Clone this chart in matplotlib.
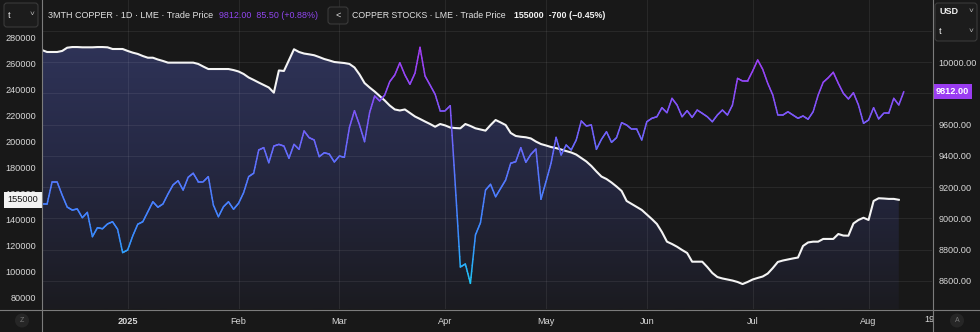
import numpy as np
import pandas as pd
import matplotlib
matplotlib.use('Agg')
import matplotlib.pyplot as plt
import matplotlib.transforms as mtrans
from matplotlib.collections import LineCollection
from matplotlib.colors import LinearSegmentedColormap, Normalize
from matplotlib.patches import Polygon, FancyBboxPatch, Circle, Rectangle
from matplotlib.lines import Line2D

plt.rcParams['font.family'] = ['Liberation Sans', 'DejaVu Sans']

# LME trading calendar (UK holidays removed)
holidays = ['2024-12-25', '2024-12-26', '2025-01-01', '2025-04-18',
            '2025-04-21', '2025-05-05', '2025-05-26']
days = pd.bdate_range('2024-12-05', '2025-08-19', freq='C', holidays=holidays)

# 3M copper, USD/t, one close per trading day
price = [
    9090, 9090, 9233, 9233, 9149, 9072, 9053, 9060, 9004, 9038,
    8882, 8940, 8933, 8964, 8978, 8930, 8780, 8797, 8887, 8962,
    8978, 9042, 9106, 9071, 9092, 9156, 9214, 9241, 9181, 9263,
    9289, 9235, 9235, 9267, 9085, 9010, 9074, 9106, 9058, 9096,
    9164, 9267, 9289, 9438, 9453, 9356, 9463, 9474, 9463, 9385,
    9474, 9442, 9560, 9517, 9502, 9395, 9420, 9412, 9361, 9399,
    9391, 9583, 9690, 9598, 9491, 9677, 9784, 9752, 9790, 9876,
    9919, 9997, 9919, 9859, 9930, 10096, 9912, 9854, 9795, 9690,
    9690, 9722, 9214, 8688, 8707, 8583, 8893, 8972, 9181, 9218,
    9138, 9192, 9246, 9353, 9363, 9453, 9359, 9410, 9444, 9122,
    9235, 9353, 9519, 9406, 9470, 9438, 9502, 9624, 9592, 9598,
    9442, 9506, 9555, 9487, 9517, 9613, 9598, 9571, 9571, 9502,
    9619, 9641, 9651, 9709, 9677, 9769, 9726, 9651, 9690, 9647,
    9694, 9673, 9651, 9619, 9662, 9694, 9662, 9726, 9897, 9880,
    9880, 9944, 10015, 9955, 9865, 9790, 9662, 9662, 9683, 9662,
    9641, 9656, 9635, 9683, 9790, 9872, 9901, 9936, 9865, 9801,
    9765, 9805, 9726, 9609, 9630, 9709, 9637, 9673, 9673, 9769,
    9726.5, 9812,
]

# LME copper stocks, tonnes
stocks = [
    270200, 268700, 268700, 268700, 269500, 272000, 272500, 272500, 272300, 272300,
    272300, 272500, 272500, 272300, 271000, 271000, 271000, 269500, 268200, 267200,
    265600, 264300, 264300, 262900, 261800, 260500, 260500, 260500, 260500, 260500,
    260500, 259500, 257500, 255600, 255600, 255600, 255600, 255600, 254800, 253700,
    251800, 249100, 247200, 245200, 243300, 241400, 237400, 254500, 254100, 262500,
    270800, 268700, 267500, 266900, 266200, 264800, 263300, 262200, 261000, 260600,
    260200, 259500, 256800, 251400, 244800, 241400, 238300, 234800, 231400, 227500,
    224500, 223700, 224500, 221800, 219100, 217200, 215200, 213300, 211200, 213300,
    212200, 210600, 210200, 210000, 213300, 211800, 210000, 209100, 208200, 212500,
    216400, 214500, 212500, 206400, 204100, 203500, 203100, 202200, 199800, 197900,
    196800, 195600, 194800, 193700, 192500, 191400, 189800, 187200, 184500, 181000,
    176800, 172900, 171000, 168300, 165200, 161800, 154100, 151800, 149500, 147200,
    143700, 140200, 136400, 130200, 122800, 121000, 118900, 116400, 114100, 107400,
    107400, 107400, 103300, 98700, 95600, 94500, 93700, 92900, 91800, 90200,
    91800, 93700, 94900, 96000, 98300, 102500, 107200, 108300, 109100, 109900,
    110600, 119500, 122200, 122800, 122800, 124900, 124900, 124900, 128700, 127500,
    127400, 136800, 139500, 141200, 139500, 154100, 156200, 156000, 155700, 155700,
    155000,
]

stock_ticks = list(range(80000, 280001, 20000))
price_ticks = [8600, 8800, 9000, 9200, 9400, 9600, 9800, 10000]
price_grid = price_ticks + [10200]

BG = '#181818'
TXT = '#d8d8d8'
GRID = '#ffffff'
FS = 6.6
W, H = 980, 332

fig = plt.figure(figsize=(W / 100, H / 100), dpi=100, facecolor=BG)
ax = fig.add_axes([42 / W, 23 / H, 890 / W, 309 / H])
ax.set_facecolor(BG)
axp = ax.twinx()

S_LIM = (71008, 308691)
P_LIM = (8418.7, 10399.3)
X_LIM = (0, 890 / 5.04)

xs = np.arange(len(stocks))
xp = np.arange(len(price))

# area under the stocks line, vertical gradient clipped to the series
area_cmap = LinearSegmentedColormap.from_list('area', ['#1b1b20', '#262945', '#32375f'])
grad = np.linspace(0, 1, 256).reshape(-1, 1)
im = ax.imshow(grad, extent=[X_LIM[0], X_LIM[1], S_LIM[0], S_LIM[1]],
               origin='lower', aspect='auto', cmap=area_cmap, zorder=0.2,
               interpolation='bilinear')
verts = [(xs[0], S_LIM[0])] + list(zip(xs, stocks)) + [(xs[-1], S_LIM[0])]
clip = Polygon(verts, closed=True, facecolor='none', edgecolor='none')
ax.add_patch(clip)
im.set_clip_path(clip)

# horizontal grid follows the price scale
blend = mtrans.blended_transform_factory(ax.transAxes, axp.transData)
for p in price_grid:
    ax.add_line(Line2D([0, 1], [p, p], transform=blend, color=GRID,
                       alpha=0.07, lw=0.8, zorder=0.5))

ax.plot(xs, stocks, color='#f4f4f4', lw=1.5, zorder=2, solid_joinstyle='round')

# price line coloured by level
price_cmap = LinearSegmentedColormap.from_list('px', [
    (0.0, '#1fc6f5'), (0.2, '#3a8cff'), (0.45, '#5578ff'),
    (0.65, '#7460fb'), (0.85, '#9148f7'), (1.0, '#a23cf4')])
segs, vals = [], []
for i in range(len(price) - 1):
    t = np.linspace(0, 1, 9)
    xx = xp[i] + t * (xp[i + 1] - xp[i])
    yy = price[i] + t * (price[i + 1] - price[i])
    for k in range(8):
        segs.append([(xx[k], yy[k]), (xx[k + 1], yy[k + 1])])
        vals.append((yy[k] + yy[k + 1]) / 2)
lc = LineCollection(segs, cmap=price_cmap, norm=Normalize(8580, 10100),
                    linewidths=1.1, capstyle='round', joinstyle='round')
lc.set_array(np.array(vals))
axp.add_collection(lc)

ax.set_xlim(*X_LIM)
ax.set_ylim(*S_LIM)
axp.set_ylim(*P_LIM)

# month ticks on first trading day of each month
month_pos = [i for i in range(1, len(days)) if days[i].month != days[i - 1].month]
month_lab = ['2025' if days[i].month == 1 else days[i].strftime('%b') for i in month_pos]
ax.set_xticks(month_pos)
ax.set_xticklabels(month_lab)
ax.get_xticklabels()[0].set_fontweight('bold')
ax.grid(axis='x', color=GRID, alpha=0.07, lw=0.8)
ax.set_axisbelow(True)
ax.tick_params(axis='x', length=0, pad=5.5, labelsize=FS, colors=TXT)

ax.set_yticks(stock_ticks)
ax.set_yticklabels([str(v) for v in stock_ticks])
ax.tick_params(axis='y', length=0, pad=4.5, labelsize=FS, colors=TXT)

# scale labels hidden behind the last-price tag are dropped
axp.set_yticks(price_ticks)
axp.set_yticklabels(['' if abs(v - price[-1]) < 60 else f'{v:.2f}' for v in price_ticks])
axp.tick_params(axis='y', length=0, pad=4.5, labelsize=FS, colors=TXT)

for a in (ax, axp):
    for sp in a.spines.values():
        sp.set_visible(False)

# date label that runs into the price scale
last_day = len(days) - 1
ax.text(last_day, -11 / 309, days[last_day].strftime('%d'),
        transform=mtrans.blended_transform_factory(ax.transData, ax.transAxes),
        ha='center', va='center', fontsize=FS, color=TXT)

# last-value tags, nudged so the boxes sit inside their scales
to_left = mtrans.ScaledTranslation(-3.5 / 100, 0, fig.dpi_scale_trans)
to_right = mtrans.ScaledTranslation(4 / 100, 0, fig.dpi_scale_trans)
ax.text(0, stocks[-1], str(stocks[-1]),
        transform=mtrans.blended_transform_factory(ax.transAxes, ax.transData) + to_left,
        ha='right', va='center', fontsize=FS, color='#111111', zorder=5,
        bbox=dict(boxstyle='square,pad=0.36', fc='#f2f2f2', ec='none'))
axp.text(1.0, price[-1], f'{price[-1]:.2f}',
         transform=mtrans.blended_transform_factory(axp.transAxes, axp.transData) + to_right,
         ha='left', va='center', fontsize=FS, color='white', fontweight='bold',
         zorder=5, bbox=dict(boxstyle='square,pad=0.32', fc='#9b3cf2', ec='none'))

# pane chrome in pixel coordinates
ov = fig.add_axes([0, 0, 1, 1], zorder=10)
ov.set_xlim(0, W)
ov.set_ylim(H, 0)
ov.axis('off')
ov.patch.set_alpha(0)

ov.add_patch(Rectangle((933, 310), 47, 22, fc=BG, ec='none'))
sep = '#7c7c7c'
ov.plot([42, 42], [0, H], color=sep, lw=0.8)
ov.plot([932.5, 932.5], [0, H], color=sep, lw=0.8)
ov.plot([0, W], [309.5, 309.5], color=sep, lw=0.8)

box = dict(boxstyle='round,pad=0,rounding_size=3', fc='#1c1c1c', ec='#3a3a3a', lw=0.8)
ov.add_patch(FancyBboxPatch((4, 3), 34, 24, **box))
ov.text(8, 15, 't', fontsize=FS, color='#e8e8e8', va='center')
ov.text(32, 14.5, '\u02c5', fontsize=6, color='#bbbbbb', va='center', ha='center')

ov.add_patch(FancyBboxPatch((935, 3), 42, 38, **box))
ov.text(939, 12, 'USD', fontsize=FS, color='#f0f0f0', va='center', fontweight='bold')
ov.text(971, 12, '\u02c5', fontsize=6, color='#bbbbbb', va='center', ha='center')
ov.text(939, 31, 't', fontsize=FS, color='#f0f0f0', va='center')
ov.text(971, 31, '\u02c5', fontsize=6, color='#bbbbbb', va='center', ha='center')

ov.add_patch(FancyBboxPatch((328, 7), 20, 17, **box))
ov.text(338, 15.5, '<', fontsize=FS, color='#e0e0e0', va='center', ha='center')

ov.text(48, 15.5, '3MTH COPPER \u00b7 1D \u00b7 LME \u00b7 Trade Price', fontsize=6.5,
        color='#e2e2e2', va='center')
ov.text(219, 15.5, f'{price[-1]:.2f}  {price[-1] - price[-2]:.2f} '
        f'(+{(price[-1] - price[-2]) / price[-2] * 100:.2f}%)',
        fontsize=6.4, color='#9146f0', va='center')
ov.text(352, 15.5, 'COPPER STOCKS \u00b7 LME \u00b7 Trade Price', fontsize=6.3,
        color='#e2e2e2', va='center')
ov.text(514, 15.5, f'{stocks[-1]}  {stocks[-1] - stocks[-2]} '
        f'(\u2212{abs(stocks[-1] - stocks[-2]) / stocks[-2] * 100:.2f}%)',
        fontsize=6.4, color='#f2f2f2', va='center', fontweight='bold')

for cx, ch in ((22, 'Z'), (957, 'A')):
    ov.add_patch(Circle((cx, 320.5), 7, fc='#262626', ec='none'))
    ov.text(cx, 320.5, ch, fontsize=5, color='#777777', ha='center', va='center')

fig.savefig('out.png', dpi=100, facecolor=BG)
